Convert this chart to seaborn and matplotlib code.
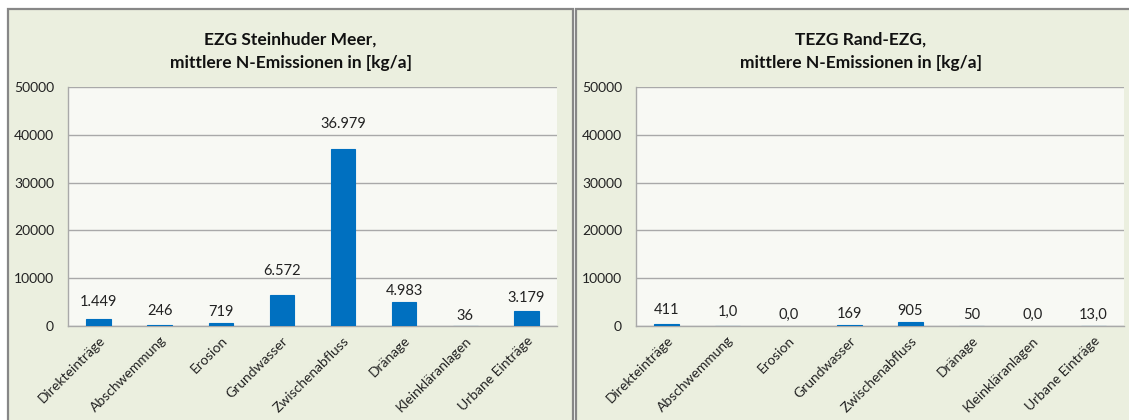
import matplotlib
matplotlib.use("Agg")
import matplotlib.pyplot as plt
from matplotlib.patches import Rectangle
import numpy as np
import seaborn as sns

# Emission source categories
categories = ["Direkteinträge", "Abschwemmung", "Erosion", "Grundwasser",
              "Zwischenabfluss", "Dränage", "Kleinkläranlagen", "Urbane Einträge"]

# Mean N emissions in kg/a
ezg_values = [1449, 246, 719, 6572, 36979, 4983, 36, 3179]
ezg_decimals = [0, 0, 0, 0, 0, 0, 0, 0]
tezg_values = [411, 1.0, 0.0, 169, 905, 50, 0.0, 13.0]
tezg_decimals = [0, 1, 1, 0, 0, 0, 1, 1]

y_ticks = [0, 10000, 20000, 30000, 40000, 50000]

titles = ["EZG Steinhuder Meer,\nmittlere N-Emissionen in [kg/a]",
          "TEZG Rand-EZG,\nmittlere N-Emissionen in [kg/a]"]

# label distance above bar top, in points
ezg_label_gap = [12, 10, 7.5, 17, 18, 8, 7, 9.5]
tezg_label_gap = [10, 10, 8, 8, 8, 8, 8, 8]

BAR = "#0070C0"
PANEL_BG = "#EBEFDF"
PLOT_BG = "#F8F9F4"
GRID = "#A9A9A9"
FRAME = "#878787"

sns.set_theme(style="white")
plt.rcParams["font.family"] = ["Lato", "DejaVu Sans"]


def de_format(v, dec):
    s = f"{v:,.{dec}f}"
    return s.replace(",", "X").replace(".", ",").replace("X", ".")


W, H = 1129, 420
fig = plt.figure(figsize=(W / 100, H / 100), dpi=100)
fig.patch.set_facecolor("white")

panels = [(8, 573), (576, 1145)]
for (x0, x1) in panels:
    fig.patches.append(Rectangle((x0 / W, -0.05), (x1 - x0) / W, 1.05 - 9.5 / H,
                                 transform=fig.transFigure, facecolor=PANEL_BG,
                                 edgecolor=FRAME, linewidth=1.6, zorder=-10))

axes_px = [(68, 557), (636, 1124)]
top_px, bot_px = 87, 326
datasets = [(ezg_values, ezg_decimals, ezg_label_gap),
            (tezg_values, tezg_decimals, tezg_label_gap)]

for i, ((ax0, ax1), (vals, decs, gaps)) in enumerate(zip(axes_px, datasets)):
    ax = fig.add_axes([ax0 / W, 1 - bot_px / H, (ax1 - ax0) / W, (bot_px - top_px) / H])
    ax.set_zorder(5)
    ax.set_facecolor(PLOT_BG)
    sns.barplot(x=categories, y=vals, ax=ax, color=BAR, saturation=1,
                width=0.4, edgecolor=BAR, linewidth=0.8, zorder=3)
    # zero-valued bars stay invisible
    for p in ax.patches:
        if p.get_height() == 0:
            p.set_linewidth(0)
    ax.set_xlim(-0.5, len(categories) - 0.5)
    ax.set_ylim(0, 50000)
    ax.set_yticks(y_ticks)
    ax.set_yticklabels([str(t) for t in y_ticks], fontsize=10, color="#222222")
    ax.yaxis.grid(True, color=GRID, linewidth=1.0, zorder=1)
    ax.set_axisbelow(True)
    ax.set_xlabel("")
    ax.set_ylabel("")

    ax.set_xticks(np.arange(len(categories)))
    ax.set_xticklabels(categories, rotation=45, ha="right", rotation_mode="anchor",
                       fontsize=10, color="#222222")
    ax.set_xticks(np.arange(len(categories) + 1) - 0.5, minor=True)
    ax.tick_params(axis="x", which="major", length=0, pad=6)
    ax.tick_params(axis="x", which="minor", length=4, width=1, color=GRID, direction="out")
    ax.tick_params(axis="y", length=4, width=1, color=GRID, direction="out", pad=6)

    for side in ["top", "right"]:
        ax.spines[side].set_visible(False)
    for side in ["left", "bottom"]:
        ax.spines[side].set_color(GRID)
        ax.spines[side].set_linewidth(1.0)

    for j, (v, d, g) in enumerate(zip(vals, decs, gaps)):
        ax.annotate(de_format(v, d), (j, v), xytext=(0, g), textcoords="offset points",
                    ha="center", va="center", fontsize=10.5, color="#222222", zorder=4)

    cx = (panels[i][0] + panels[i][1]) / 2 / W
    fig.text(cx, 1 - 51.5 / H, titles[i], ha="center", va="center", fontsize=12.5,
             fontweight="bold", linespacing=1.55, color="#111111")

fig.savefig("out.png", dpi=100, facecolor=fig.get_facecolor())
